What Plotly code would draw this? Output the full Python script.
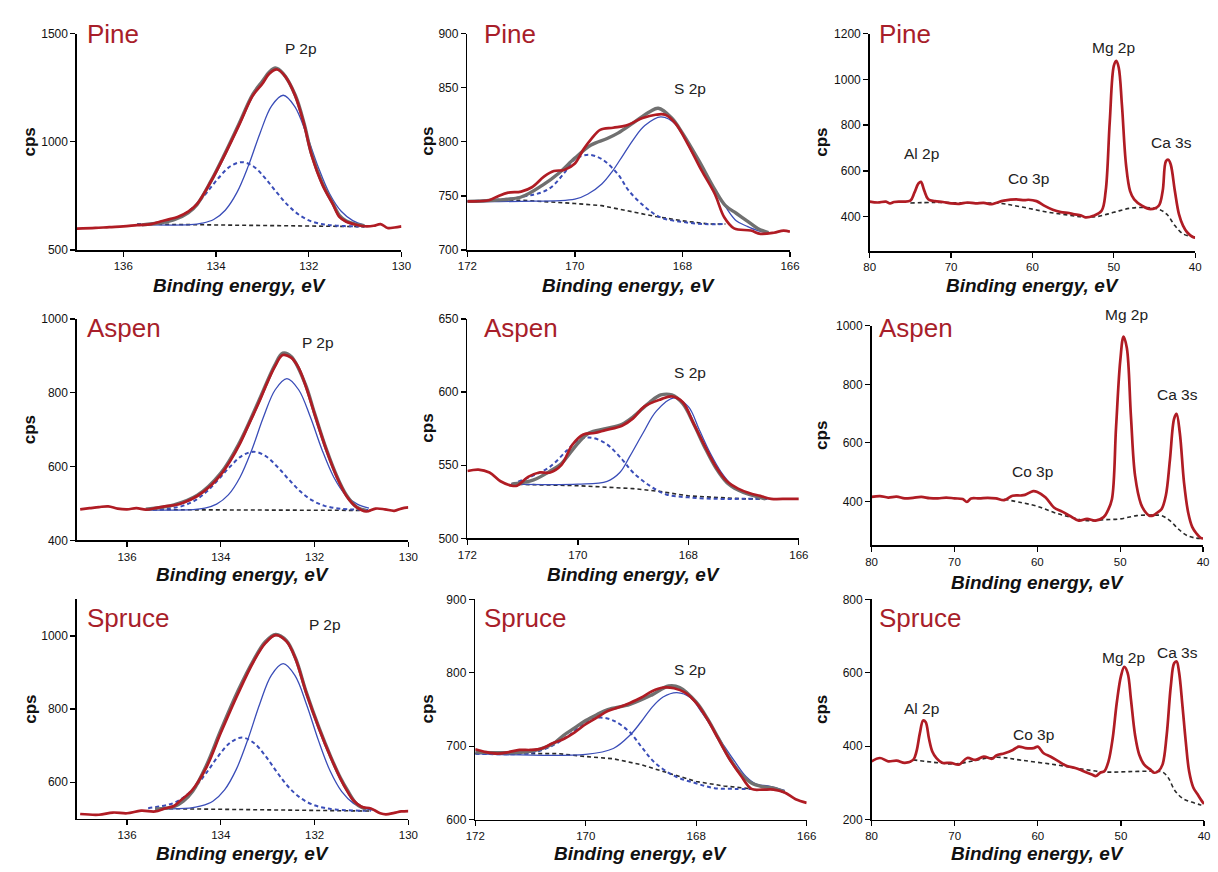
import plotly.graph_objects as go

W, H = 1218, 872

# ================= DATA =================
# ---- Pine, P 2p ----
pine_p_red_x = [137.0,136.6,136.3,136.0,135.7,135.4,135.2,135.0,134.83,134.6,134.41,134.1,133.81,133.5,133.21,133.0,132.85,132.68,132.5,132.29,132.1,131.94,131.7,131.48,131.34,131.2,131.0,130.8,130.6,130.45,130.3,130.15,130.0]
pine_p_red_y = [599,602,606,609,615,620,632,643,653,678,712,820,940,1078,1212,1268,1315,1334,1300,1212,1080,940,800,712,653,632,618,610,612,620,602,604,609]
pine_p_env_x = [135.6,135.2,134.9,134.6,134.41,134.1,133.81,133.5,133.21,133.0,132.85,132.72,132.55,132.29,132.1,131.94,131.7,131.48,131.34,131.2,131.0,130.8]
pine_p_env_y = [616,626,640,672,710,822,945,1085,1218,1280,1322,1341,1315,1215,1085,945,805,715,660,635,620,612]
pine_p_c1_x = [135.6,134.55,134.3,134.05,133.8,133.55,133.3,133.05,132.8,132.55,132.3,132.05,131.8,131.55,131.3,131.05,130.8]
pine_p_c1_y = [617,617,624,641,684,765,890,1040,1166,1215,1163,1036,886,760,679,636,615]
pine_p_c2_x = [135.7,135.44,135.19,134.94,134.69,134.44,134.19,133.94,133.69,133.44,133.19,132.94,132.69,132.44,132.19,131.94,131.69,131.44,131.0,130.8]
pine_p_c2_y = [618,620,626,638,665,708,768,834,887,906,886,832,766,705,660,632,619,613,609,608]
pine_p_bg_x = [135.7,133.5,131.5,130.8]
pine_p_bg_y = [620,616,610,608]

# ---- Pine, S 2p ----
pine_s_red_x = [172.0,171.6,171.42,171.24,171.0,170.8,170.57,170.39,170.2,170.0,169.84,169.69,169.53,169.29,169.05,168.74,168.5,168.32,168.13,167.89,167.65,167.4,167.22,167.04,166.73,166.55,166.3,166.12,166.0]
pine_s_red_y = [745,746,750,753,754,758,768,773,774,780,793,803,811,813,815,822,825,825,817,797,774,752,730,720,718,715,716,718,717]
pine_s_env_x = [172.0,171.5,171.0,170.6,170.3,170.0,169.7,169.4,169.2,168.9,168.6,168.45,168.2,168.0,167.7,167.4,167.2,167.0,166.8,166.6,166.4]
pine_s_env_y = [745,746,749,760,771,785,797,803,808,818,828,831,822,808,783,756,741,734,727,720,716]
pine_s_c1_x = [172.0,171.0,170.0,169.75,169.5,169.3,169.1,168.9,168.7,168.4,168.1,167.8,167.5,167.2,167.0,166.8,166.6,166.4]
pine_s_c1_y = [745,745,747,752,761,773,788,803,815,823,815,788,764,740,727,722,718,716]
pine_s_c2_x = [172.0,171.0,170.5,170.2,170.0,169.75,169.5,169.2,169.0,168.7,168.4,168.0,167.6,167.2]
pine_s_c2_y = [745,749,756,771,784,788,784,770,755,740,730,726,724,724]
pine_s_bg_x = [172.0,171.0,170.0,169.5,169.0,168.5,168.0,167.5,167.2]
pine_s_bg_y = [745,746,743,741,736,731,727,724,724]

# ---- Pine, survey ----
pine_v_red_x = [80,79,78,77.5,77,76,75,74.5,74,73.7,73.3,72.8,72,71,70,69,68,67,66,65,64.5,63.5,62,61,60.5,59.5,58.5,57.5,56.5,55.5,55,54,53.5,52.5,51.5,51,50.5,50,49.7,49.4,49,48.5,48,47.5,46.5,45.5,44.5,44,43.6,43.3,43.0,42.5,42,41.5,41,40.3,40]
pine_v_red_y = [466,462,466,458,464,466,470,505,545,552,515,476,468,464,458,456,462,458,460,455,460,470,476,472,474,468,447,430,420,416,411,405,397,404,426,512,814,1059,1081,1052,886,627,512,476,447,433,447,512,642,649,627,512,411,361,332,311,308]
pine_v_bg_x = [75,72,68,64,62,60,58,56,54,52,50,48,46,44.5,43.5,42.5,41.5,40.5,40]
pine_v_bg_y = [460,462,460,458,447,433,419,409,400,401,419,437,440,433,411,361,325,314,311]

# ---- Aspen, P 2p ----
aspen_p_red_x = [137.0,136.8,136.6,136.4,136.2,136.0,135.8,135.6,135.4,135.2,135.0,134.8,134.5,134.2,134.0,133.8,133.6,133.4,133.2,133.0,132.85,132.68,132.5,132.35,132.2,132.0,131.75,131.53,131.32,131.1,130.9,130.7,130.5,130.3,130.15,130.0]
aspen_p_red_y = [484,487,490,492,486,484,487,483,487,492,495,502,520,550,578,615,660,715,770,830,870,902,895,870,822,742,645,573,520,489,478,486,484,480,486,489]
aspen_p_env_x = [135.6,135.0,134.5,134.0,133.6,133.2,132.85,132.68,132.5,132.2,132.0,131.75,131.53,131.32,131.1,130.9]
aspen_p_env_y = [484,496,522,582,665,775,874,907,898,824,744,647,575,522,490,481]
aspen_p_c1_x = [135.6,134.59,134.34,134.09,133.84,133.59,133.34,133.09,132.84,132.59,132.34,132.09,131.84,131.59,131.34,131.09,130.84]
aspen_p_c1_y = [482,483,487,498,523,571,645,734,808,838,808,734,645,571,523,498,487]
aspen_p_c2_x = [135.6,135.3,135.05,134.8,134.55,134.3,134.05,133.8,133.55,133.3,133.05,132.8,132.55,132.3,132.05,131.8,131.55,131.3,130.8]
aspen_p_c2_y = [483,484,487,494,508,532,565,600,629,640,629,600,565,532,508,494,487,484,482]
aspen_p_bg_x = [135.6,130.8]
aspen_p_bg_y = [483,481]

# ---- Aspen, S 2p ----
aspen_s_red_x = [172.0,171.8,171.6,171.4,171.2,171.1,170.9,170.7,170.5,170.3,170.1,169.9,169.7,169.5,169.2,169.0,168.8,168.5,168.3,168.1,167.9,167.7,167.5,167.3,167.1,166.9,166.7,166.5,166.2,166.0]
aspen_s_red_y = [546,547,545,539,536,536,542,545,545,550,564,571,572,574,577,582,590,595,597,593,578,563,549,539,534,531,529,527,527,527]
aspen_s_env_x = [171.2,170.8,170.5,170.3,170.0,169.8,169.5,169.2,169.0,168.7,168.5,168.3,168.1,167.9,167.7,167.5,167.3,167.1,166.9,166.6]
aspen_s_env_y = [537,540,546,551,565,572,575,578,583,593,598,598,592,578,562,548,538,533,530,527]
aspen_s_c1_x = [171.2,170.0,169.47,169.24,169.06,168.82,168.58,168.26,168.0,167.8,167.6,167.4,167.2,167.0,166.8,166.6,166.5]
aspen_s_c1_y = [537,537,539,545,556,572,587,596,590,574,558,545,536,531,529,527,527]
aspen_s_c2_x = [171.2,170.8,170.5,170.2,170.0,169.8,169.5,169.2,169.0,168.7,168.4,168.0,167.5,167.0,166.6]
aspen_s_c2_y = [537,543,549,560,567,569,565,554,545,536,530,528,527,527,527]
aspen_s_bg_x = [171.2,170.0,169.0,168.5,168.0,167.5,167.0,166.5]
aspen_s_bg_y = [537,536,534,532,529,528,527,527]

# ---- Aspen, survey ----
aspen_v_red_x = [80,79,78,77,76,75,74,73,72,71,70,69,68.5,68,67,66,65,64,63,62,61.5,60.5,60,59,58,57,56,55,54,53,52,51.5,51,50.5,50,49.6,49.2,48.7,48.2,47.5,47,46.5,46,45.5,45,44.5,44,43.5,43.2,42.8,42.3,41.8,41.3,40.8,40.3,40]
aspen_v_red_y = [415,418,413,416,410,412,415,411,410,413,410,408,398,410,410,412,410,404,419,420,422,435,432,413,379,365,349,334,340,334,346,368,407,654,879,963,924,688,486,391,365,351,352,362,374,419,542,682,699,632,464,362,312,290,275,273]
aspen_v_bg_x = [64,62,60,58,56,54,52,50,48,46,45,44,43,42,41,40]
aspen_v_bg_y = [407,396,383,362,346,334,337,340,351,353,351,334,306,284,275,273]

# ---- Spruce, P 2p ----
spruce_p_red_x = [137.0,136.6,136.3,136.0,135.7,135.4,135.2,135.0,134.86,134.62,134.31,134.0,133.64,133.3,133.05,132.83,132.6,132.4,132.18,131.9,131.65,131.45,131.31,131.17,131.0,130.8,130.6,130.48,130.3,130.15,130.0]
spruce_p_red_y = [513,511,517,515,522,520,528,535,550,577,640,735,840,930,980,1002,985,935,845,745,666,610,577,550,533,528,515,512,516,520,521]
spruce_p_env_x = [135.4,135.0,134.8,134.6,134.31,134.0,133.64,133.3,133.05,132.83,132.6,132.4,132.18,131.9,131.65,131.45,131.3,131.1,130.9]
spruce_p_env_y = [526,533,548,575,645,742,848,934,984,1004,987,937,847,747,668,612,578,540,526]
spruce_p_c1_x = [135.4,134.67,134.42,134.17,133.92,133.67,133.42,133.17,132.92,132.67,132.42,132.17,131.92,131.67,131.42,131.17,130.92,130.7]
spruce_p_c1_y = [527,529,535,548,579,635,718,814,893,924,892,812,715,631,574,542,528,523]
spruce_p_c2_x = [135.55,135.05,134.8,134.55,134.3,134.05,133.8,133.55,133.3,133.05,132.8,132.55,132.3,132.05,131.8,131.55,131.0,130.8]
spruce_p_c2_y = [529,541,558,587,627,672,708,722,708,672,627,586,557,539,530,525,522,522]
spruce_p_bg_x = [135.4,130.8]
spruce_p_bg_y = [528,521]

# ---- Spruce, S 2p ----
spruce_s_red_x = [172.0,171.8,171.6,171.4,171.2,171.0,170.8,170.6,170.4,170.2,170.0,169.8,169.6,169.4,169.2,169.0,168.8,168.6,168.4,168.2,168.0,167.8,167.6,167.4,167.2,167.0,166.8,166.6,166.4,166.2,166.0]
spruce_s_red_y = [696,692,690,692,695,695,697,704,710,719,730,739,748,753,759,766,775,780,779,773,759,737,710,683,661,642,641,641,637,628,623]
spruce_s_env_x = [172.0,171.0,170.6,170.4,170.2,170.0,169.8,169.6,169.2,168.8,168.5,168.3,168.0,167.8,167.6,167.4,167.2,167.0,166.8,166.6,166.4]
spruce_s_env_y = [692,693,703,715,725,735,743,750,757,770,782,780,760,738,711,684,663,650,645,643,638]
spruce_s_c1_x = [172.0,170.0,169.5,169.2,169.0,168.8,168.6,168.35,168.1,167.9,167.7,167.5,167.3,167.1,166.9,166.7,166.5,166.4]
spruce_s_c1_y = [690,689,697,715,733,753,767,773,766,746,724,701,679,659,648,646,642,640]
spruce_s_c2_x = [172.0,171.0,170.6,170.3,170.0,169.75,169.5,169.2,168.97,168.74,168.38,168.02,167.67,167.3,166.95]
spruce_s_c2_y = [690,691,701,715,733,739,735,719,697,677,659,650,643,642,642]
spruce_s_bg_x = [172.0,170.5,170.0,169.5,169.0,168.5,168.0,167.5,167.0]
spruce_s_bg_y = [690,690,686,683,675,663,652,646,642]

# ---- Spruce, survey ----
spruce_v_red_x = [80,79,78,77,76,75,74.6,74.2,73.8,73.5,73.1,72.7,72.2,71.5,70.5,69.5,68.5,67.5,66.5,65.5,65,64,63,62.3,61.5,60.5,60,59.3,58.5,57.5,56.5,55.5,54.5,53.5,53,52.5,52,51.5,51,50.5,50,49.6,49.2,48.8,48.3,47.8,47.2,46.5,46,45.5,45,44.5,44,43.6,43.3,43.0,42.6,42.2,41.8,41.3,40.8,40.3,40]
spruce_v_red_y = [359,368,359,361,355,363,386,435,470,466,421,386,368,355,355,350,368,363,372,366,375,381,390,399,395,395,399,381,372,359,346,341,332,323,319,328,332,359,421,519,591,616,600,528,430,377,350,337,328,332,350,430,564,626,631,600,510,412,332,288,270,252,243]
spruce_v_bg_x = [75,72,70,65,62,58,55,52,49,46,45,44.3,43.5,42.5,41.5,40.5,40]
spruce_v_bg_y = [363,355,352,370,362,350,339,330,331,332,330,314,279,257,248,241,239]

# ---- text ----
samples = ["Pine", "Aspen", "Spruce"]
x_title = "Binding energy, eV"
y_title = "cps"
peak_labels = {
    0: ["P 2p"], 1: ["S 2p"], 2: ["Al 2p", "Co 3p", "Mg 2p", "Ca 3s"],
    3: ["P 2p"], 4: ["S 2p"], 5: ["Co 3p", "Mg 2p", "Ca 3s"],
    6: ["P 2p"], 7: ["S 2p"], 8: ["Al 2p", "Co 3p", "Mg 2p", "Ca 3s"],
}

# ================= STYLE / LAYOUT =================
RED = "#b01c24"
LABEL_RED = "#a81e2a"
BLUE = "#3a4db8"
GRAY = "#707070"
BLACK_D = "#2a2a2a"
FONT = "Liberation Sans, Arial, sans-serif"

# panel pixel boxes: left, right, top, bottom
boxes = [
    (68, 398, 27, 247), (465, 793, 27, 247), (874, 1205, 27, 248),
    (68, 405, 317, 542), (465, 802, 317, 540), (876, 1213, 324, 547),
    (68, 405, 602, 825), (473, 810, 602, 826), (876, 1214, 602, 826),
]
xranges = [[137, 130], [172, 166], [80, 40],
           [137.07, 130], [172, 166], [80, 40],
           [137.07, 130], [172, 166], [80, 40]]
yranges = [[500, 1500], [700, 900], [250, 1200],
           [400, 1000], [500, 650], [250, 1000],
           [500, 1100], [600, 900], [200, 800]]
xdticks = [2, 2, 10] * 3
ydticks = [500, 50, 200, 200, 50, 200, 200, 100, 200]

# peak label pixel positions (centre)
peak_pos = {
    0: [(296, 42)], 1: [(691, 83)],
    2: [(927, 149), (1035, 174), (1122, 41), (1181, 138)],
    3: [(313, 341)], 4: [(691, 371)],
    5: [(1040, 472), (1135, 313), (1187, 394)],
    6: [(320, 628)], 7: [(691, 673)],
    8: [(927, 713), (1041, 739), (1132, 661), (1187, 656)],
}
# x-axis title centre heights, per panel
xtitle_y = [283, 283, 283, 577, 577, 585, 860, 860, 860]

fit_panels = {
    0: (pine_p_red_x, pine_p_red_y, pine_p_env_x, pine_p_env_y, pine_p_c1_x, pine_p_c1_y,
        pine_p_c2_x, pine_p_c2_y, pine_p_bg_x, pine_p_bg_y),
    1: (pine_s_red_x, pine_s_red_y, pine_s_env_x, pine_s_env_y, pine_s_c1_x, pine_s_c1_y,
        pine_s_c2_x, pine_s_c2_y, pine_s_bg_x, pine_s_bg_y),
    3: (aspen_p_red_x, aspen_p_red_y, aspen_p_env_x, aspen_p_env_y, aspen_p_c1_x, aspen_p_c1_y,
        aspen_p_c2_x, aspen_p_c2_y, aspen_p_bg_x, aspen_p_bg_y),
    4: (aspen_s_red_x, aspen_s_red_y, aspen_s_env_x, aspen_s_env_y, aspen_s_c1_x, aspen_s_c1_y,
        aspen_s_c2_x, aspen_s_c2_y, aspen_s_bg_x, aspen_s_bg_y),
    6: (spruce_p_red_x, spruce_p_red_y, spruce_p_env_x, spruce_p_env_y, spruce_p_c1_x, spruce_p_c1_y,
        spruce_p_c2_x, spruce_p_c2_y, spruce_p_bg_x, spruce_p_bg_y),
    7: (spruce_s_red_x, spruce_s_red_y, spruce_s_env_x, spruce_s_env_y, spruce_s_c1_x, spruce_s_c1_y,
        spruce_s_c2_x, spruce_s_c2_y, spruce_s_bg_x, spruce_s_bg_y),
}
survey_panels = {
    2: (pine_v_red_x, pine_v_red_y, pine_v_bg_x, pine_v_bg_y),
    5: (aspen_v_red_x, aspen_v_red_y, aspen_v_bg_x, aspen_v_bg_y),
    8: (spruce_v_red_x, spruce_v_red_y, spruce_v_bg_x, spruce_v_bg_y),
}


def px(x):
    return min(1.0, x / W)


def py(y):
    return 1 - y / H


fig = go.Figure()


def ax_names(i):
    n = "" if i == 0 else str(i + 1)
    return "x" + n, "y" + n


for i in range(9):
    xa, ya = ax_names(i)
    dash_bg = dict(color=BLACK_D, width=1.6, dash="4px,3px")
    if i in fit_panels:
        rx, ry, ex, ey, c1x, c1y, c2x, c2y, bx, by = fit_panels[i]
        fig.add_trace(go.Scatter(x=bx, y=by, mode="lines", line=dash_bg,
                                 xaxis=xa, yaxis=ya, showlegend=False, hoverinfo="skip"))
        fig.add_trace(go.Scatter(x=c2x, y=c2y, mode="lines",
                                 line=dict(color=BLUE, width=2, dash="4px,3px", shape="spline"),
                                 xaxis=xa, yaxis=ya, showlegend=False, hoverinfo="skip"))
        fig.add_trace(go.Scatter(x=c1x, y=c1y, mode="lines",
                                 line=dict(color=BLUE, width=1.3, shape="spline"),
                                 xaxis=xa, yaxis=ya, showlegend=False, hoverinfo="skip"))
        fig.add_trace(go.Scatter(x=ex, y=ey, mode="lines",
                                 line=dict(color=GRAY, width=3.4, shape="spline"),
                                 xaxis=xa, yaxis=ya, showlegend=False, hoverinfo="skip"))
        fig.add_trace(go.Scatter(x=rx, y=ry, mode="lines",
                                 line=dict(color=RED, width=2.7, shape="spline"),
                                 xaxis=xa, yaxis=ya, showlegend=False, hoverinfo="skip"))
    else:
        rx, ry, bx, by = survey_panels[i]
        fig.add_trace(go.Scatter(x=bx, y=by, mode="lines",
                                 line=dict(color=BLACK_D, width=1.6, dash="4px,3px", shape="spline"),
                                 xaxis=xa, yaxis=ya, showlegend=False, hoverinfo="skip"))
        fig.add_trace(go.Scatter(x=rx, y=ry, mode="lines",
                                 line=dict(color=RED, width=2.7, shape="spline"),
                                 xaxis=xa, yaxis=ya, showlegend=False, hoverinfo="skip"))

layout = dict(
    width=W, height=H, autosize=False,
    margin=dict(l=0, r=0, t=0, b=0, pad=0),
    paper_bgcolor="white", plot_bgcolor="white",
    showlegend=False,
)
for i in range(9):
    l, r, t, b = boxes[i]
    n = "" if i == 0 else str(i + 1)
    xa, ya = ax_names(i)
    common = dict(showline=True, linecolor="black", linewidth=1.5, ticks="outside",
                  ticklen=5, tickwidth=1.3, tickcolor="black", showgrid=False, zeroline=False)
    layout["xaxis" + n] = dict(domain=[px(l), px(r)], range=xranges[i], anchor=ya,
                               tick0=0, dtick=xdticks[i],
                               tickfont=dict(family=FONT, size=11.5, color="#111"), **common)
    layout["yaxis" + n] = dict(domain=[py(b), py(t)], range=yranges[i], anchor=xa,
                               tick0=0, dtick=ydticks[i],
                               tickfont=dict(family=FONT, size=12, color="#111"), **common)
fig.update_layout(**layout)

annotations = []
col_lab_x = [76, 480, 881]
row_lab_y = [27, 326, 621]
col_yt_x = [20, 425, 825]
for i in range(9):
    row, col = divmod(i, 3)
    l, r, t, b = boxes[i]
    annotations.append(dict(text=samples[row], x=px(col_lab_x[col]), y=py(row_lab_y[row]),
                            xref="paper", yref="paper", xanchor="left", yanchor="middle",
                            showarrow=False, font=dict(family=FONT, size=26, color=LABEL_RED)))
    annotations.append(dict(text="<b><i>" + x_title + "</i></b>", x=px((l + r) / 2), y=py(xtitle_y[i]),
                            xref="paper", yref="paper", xanchor="center", yanchor="middle",
                            showarrow=False, font=dict(family=FONT, size=19, color="#111")))
    annotations.append(dict(text="<b>" + y_title + "</b>", x=px(col_yt_x[col]), y=py((t + b) / 2),
                            xref="paper", yref="paper", xanchor="center", yanchor="middle",
                            textangle=-90, showarrow=False,
                            font=dict(family=FONT, size=17, color="#111")))
    for lab, (lx, ly) in zip(peak_labels[i], peak_pos[i]):
        annotations.append(dict(text=lab, x=px(lx), y=py(ly), xref="paper", yref="paper",
                                xanchor="center", yanchor="middle", showarrow=False,
                                font=dict(family=FONT, size=15.5, color="#222")))
fig.update_layout(annotations=annotations)

fig.write_html("out.html", config={"displayModeBar": False, "staticPlot": True},
               post_script="document.body.style.margin='0';document.body.style.overflow='hidden';")
